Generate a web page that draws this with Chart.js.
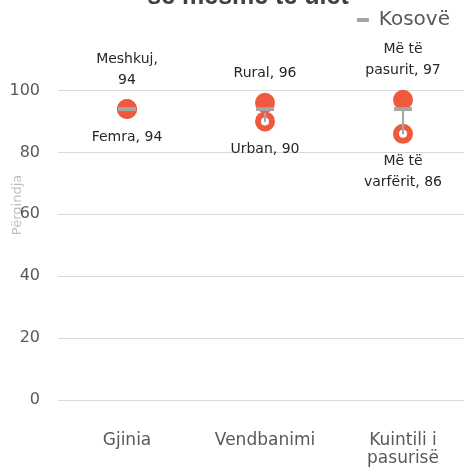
<!DOCTYPE html>
<html>
<head>
<meta charset="utf-8">
<script src="https://cdn.jsdelivr.net/npm/chart.js@4"></script>
<style>
  html, body { margin: 0; padding: 0; width: 464px; height: 469px; overflow: hidden; background: #fff; }
  #wrap { position: relative; width: 464px; height: 469px; overflow: hidden; }
  #box { position: absolute; left: 0; top: -18px; width: 474px; height: 487px; }
  #chart { width: 474px; height: 487px; }
</style>
</head>
<body>
<div id="wrap"><div id="box"><canvas id="chart" width="474" height="487"></canvas></div></div>
<script>
// të dhënat
const categories = ['Gjinia', 'Vendbanimi', ['Kuintili i', 'pasurisë']];
const kosovoValues = [94, 94, 94];
const highValues = [94, 96, 97];
const lowValues = [94, 90, 86];
const highLabels = ['Meshkuj,\n{v}', 'Rural, {v}', 'Më të\npasurit, {v}'];
const lowLabels = ['Femra, {v}', 'Urban, {v}', 'Më të\nvarfërit, {v}'];
const yTicks = [0, 20, 40, 60, 80, 100];

const RED = '#EF5A3F';
const GREY = '#A6A6A6';
const FONT = '"DejaVu Sans", sans-serif';
const LEGEND_FONT = '20px "DejaVu Sans", sans-serif';

// etiketat e pikave (mbi / nën pikë)
const pointLabels = {
  id: 'pointLabels',
  afterDatasetsDraw(chart) {
    const ctx = chart.ctx;
    ctx.save();
    ctx.font = '14px ' + FONT;
    ctx.fillStyle = '#262626';
    ctx.textAlign = 'center';
    ctx.textBaseline = 'middle';
    chart.data.datasets.forEach((ds, i) => {
      if (!ds.labelFormats) return;
      chart.getDatasetMeta(i).data.forEach((pt, j) => {
        const lines = ds.labelFormats[j].replace('{v}', ds.data[j]).split('\n');
        lines.forEach((line, k) => {
          const y = ds.labelSide < 0
            ? pt.y - 29 - (lines.length - 1 - k) * 21
            : pt.y + 28 + k * 21;
          ctx.fillText(line, pt.x, y);
        });
      });
    });
    ctx.restore();
  }
};

// legjenda lart djathtas, titulli pak djathtas
const boxShift = {
  id: 'boxShift',
  afterLayout(chart) {
    const lg = chart.legend;
    const area = chart.chartArea;
    const ctx = chart.ctx;
    ctx.save();
    ctx.font = LEGEND_FONT;
    const w = 12 + 10 + ctx.measureText(chart.data.datasets[0].label).width;
    ctx.restore();
    lg.left = area.right - 22 - w;
    lg.right = area.right;
    lg.top = area.top;
    lg.bottom = area.bottom;
    chart.titleBlock.left += 12;
    chart.titleBlock.right += 12;
  }
};

new Chart(document.getElementById('chart'), {
  type: 'line',
  data: {
    labels: categories,
    datasets: [
      {
        label: 'Kosovë',
        data: kosovoValues,
        showLine: false,
        pointStyle: 'line',
        pointRadius: 9,
        pointBorderWidth: 4,
        pointBorderColor: GREY,
        borderColor: GREY,
        borderWidth: 3,
        order: 0
      },
      {
        label: 'high',
        data: highValues,
        showLine: false,
        pointRadius: 10,
        pointBorderWidth: 0,
        pointBackgroundColor: RED,
        labelFormats: highLabels,
        labelSide: -1,
        order: 1
      },
      {
        type: 'bar',
        label: 'range',
        data: highValues.map((h, i) => [lowValues[i], h]),
        backgroundColor: GREY,
        barThickness: 1.5,
        order: 2
      },
      {
        label: 'low',
        data: lowValues,
        showLine: false,
        pointRadius: 7,
        pointBorderWidth: 6,
        pointBorderColor: RED,
        pointBackgroundColor: '#ffffff',
        labelFormats: lowLabels,
        labelSide: 1,
        order: 3
      }
    ]
  },
  options: {
    responsive: false,
    animation: false,
    events: [],
    layout: { autoPadding: false, padding: { left: 0, right: 2, top: 0, bottom: 0 } },
    plugins: {
      title: {
        display: true,
        text: 'së mesme të ulët',
        color: '#404040',
        font: { family: '"Liberation Sans", Arial, sans-serif', size: 25, weight: 'bold', lineHeight: 1.2 },
        padding: { top: 0, bottom: -2 }
      },
      legend: {
        position: 'chartArea',
        align: 'start',
        labels: {
          filter: item => item.datasetIndex === 0,
          usePointStyle: true,
          pointStyleWidth: 12,
          padding: 0,
          color: '#595959',
          font: { family: FONT, size: 20 }
        }
      },
      tooltip: { enabled: false }
    },
    scales: {
      x: {
        offset: true,
        grid: { display: false },
        border: { display: false },
        ticks: {
          color: '#595959',
          padding: 23,
          font: { family: FONT, size: 17, lineHeight: 1.1 }
        },
        afterFit(scale) {
          scale.height = 69;
          scale.paddingLeft = 0;
          scale.paddingRight = 0;
        }
      },
      y: {
        min: 0,
        max: 126,
        afterBuildTicks(scale) { scale.ticks = yTicks.map(v => ({ value: v })); },
        afterFit(scale) { scale.width = 58; },
        grid: { color: '#D9D9D9', lineWidth: 1, drawTicks: false },
        border: { display: false },
        ticks: {
          color: '#595959',
          padding: 18,
          font: { family: FONT, size: 16 }
        },
        title: {
          display: true,
          text: 'Përqindja',
          color: '#BFBFBF',
          font: { family: FONT, size: 13, lineHeight: 1.2 },
          padding: { top: 9.5, bottom: 0 }
        }
      }
    }
  },
  plugins: [pointLabels, boxShift]
});
</script>
</body>
</html>
